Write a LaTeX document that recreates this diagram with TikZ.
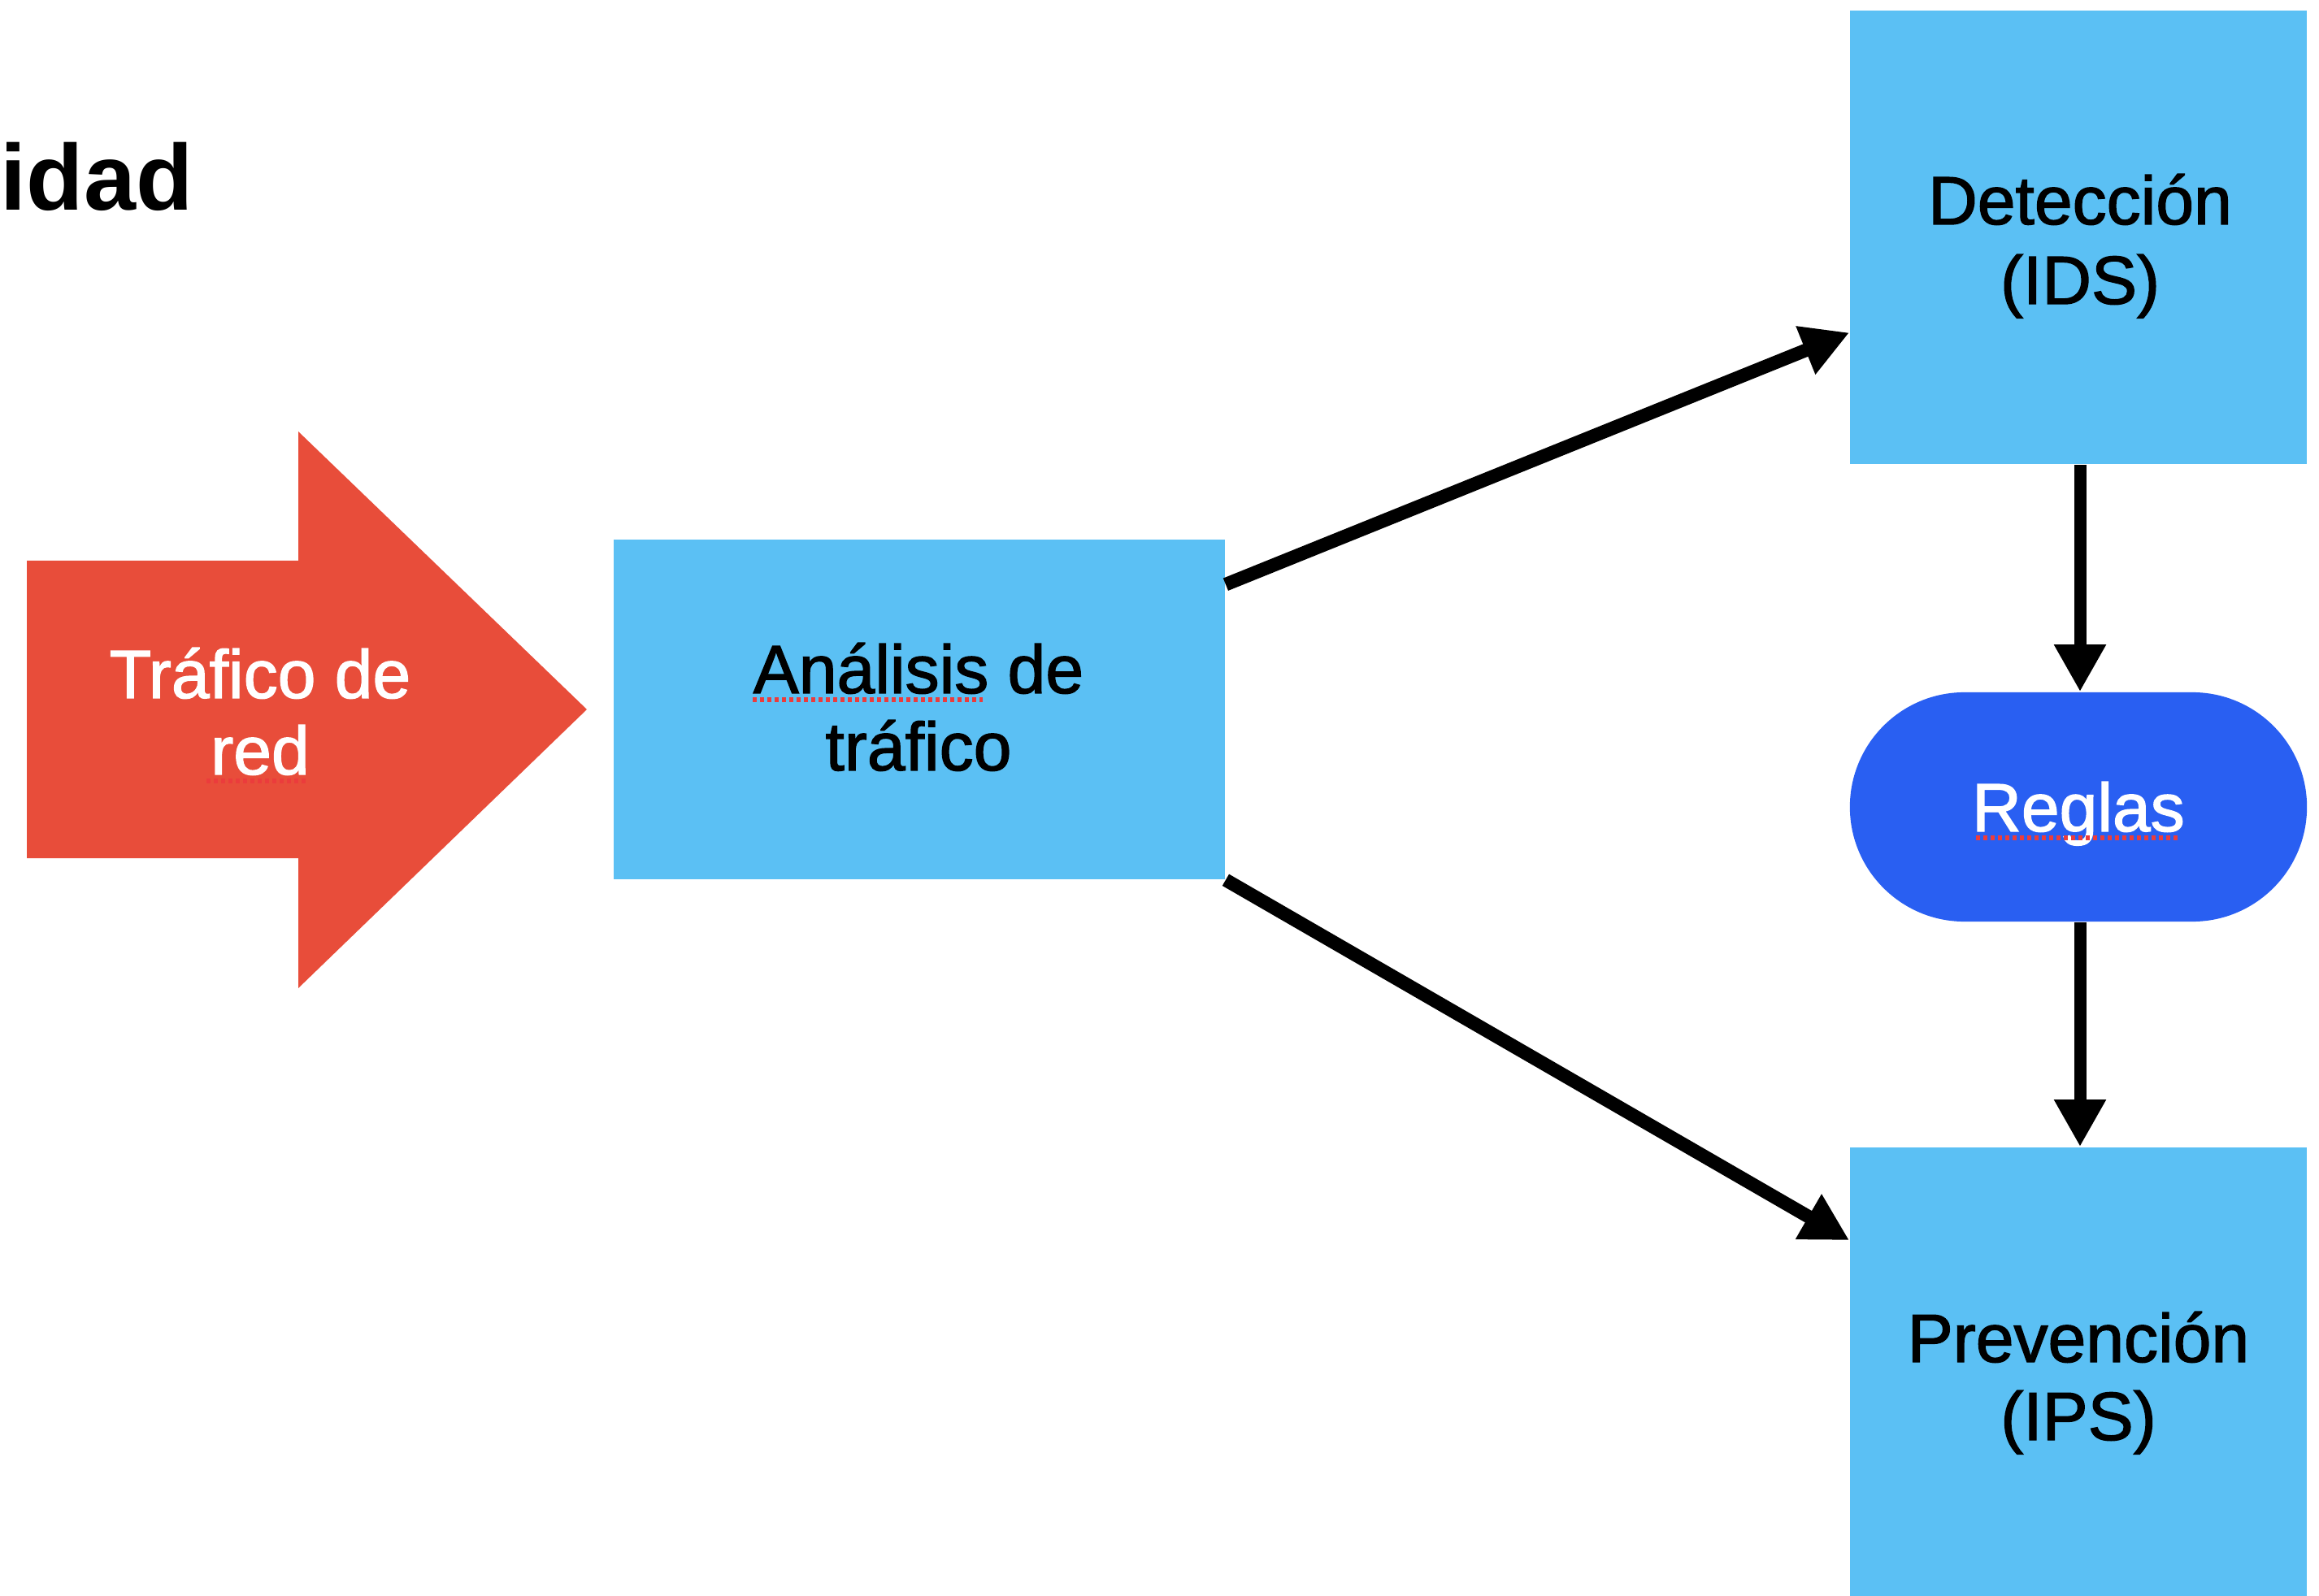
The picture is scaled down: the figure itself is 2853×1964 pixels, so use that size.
\documentclass[tikz,border=0pt]{standalone}
\usepackage{fontspec}
\setmainfont{Liberation Sans}
\newfontfamily\medfont{Liberation Sans}[FakeBold=1.6]
\usetikzlibrary{arrows.meta,calc}
\definecolor{boxblue}{RGB}{91,192,244}
\definecolor{arrowred}{RGB}{232,77,58}
\definecolor{pillblue}{RGB}{41,95,242}
\definecolor{spellred}{RGB}{235,60,60}
\begin{document}
\begin{tikzpicture}[x=0.01cm,y=-0.01cm,
  box/.style={fill=boxblue, draw=none, inner sep=0, rectangle},
  pill/.style={fill=pillblue, draw=none, inner sep=0, rectangle, rounded corners=1.41cm, minimum width=5.62cm, minimum height=2.82cm},
  lbl/.style={font=\medfont\fontsize{23.9pt}{27pt}\selectfont, inner sep=0, anchor=base},
  conn/.style={line width=0.15cm, -{Triangle[length=0.58cm,width=0.6cm]}},
  diag/.style={conn, line width=0.165cm},
  spell/.style={spellred, line width=0.05cm, dash pattern=on 0.05cm off 0.04cm}]
\fill[white] (0,0) rectangle (2853,1964);
\useasboundingbox (0,0) rectangle (2853,1964);

% title fragment
\node[font=\fontsize{32.7pt}{36pt}\selectfont\bfseries, inner sep=0, anchor=base east] (title) at (238,259) {idad};

% red input arrow
\fill[arrowred] (33,690) -- (367,690) -- (367,531) -- (722,873) -- (367,1216) -- (367,1056) -- (33,1056) -- cycle;
\node[lbl, text=white] (traf1) at (320,859) {Tráfico de};
\node[lbl, text=white] (traf2) at (320,953) {red};

% boxes
\node[box, minimum width=7.52cm, minimum height=4.18cm] (ana) at (1131,873) {};
\node[box, minimum width=5.62cm, minimum height=5.58cm] (det) at (2557,292) {};
\node[pill] (reg) at (2557,993) {};
\node[box, minimum width=5.62cm, minimum height=5.52cm] (prev) at (2557,1688) {};

% labels
\node[lbl] (ana1) at (1130,853) {Análisis de};
\node[lbl] (ana2) at (1130,948) {tráfico};
\node[lbl] (det1) at (2559,276) {Detección};
\node[lbl] (det2) at (2559,374) {(IDS)};
\node[lbl, text=white] (reg1) at (2557,1023) {Reglas};
\node[lbl] (prev1) at (2557,1676) {Prevención};
\node[lbl] (prev2) at (2557,1772) {(IPS)};

% spell-check underlines
\draw[spell] (926,861) -- (1209,861);
\draw[spell] (254,961) -- (376,961);
\draw[spell] (2431,1031) -- (2679,1031);

% connectors
\draw[diag] ([yshift=-0.56cm]ana.north east) -- ([yshift=-3.97cm]det.north west);
\draw[diag] (ana.south east) -- ([yshift=-1.15cm]prev.north west);
\draw[conn] ([xshift=0.02cm]det.south) -- ([xshift=0.02cm]reg.north);
\draw[conn] ([xshift=0.02cm]reg.south) -- ([xshift=0.02cm]prev.north);
\end{tikzpicture}
\end{document}
